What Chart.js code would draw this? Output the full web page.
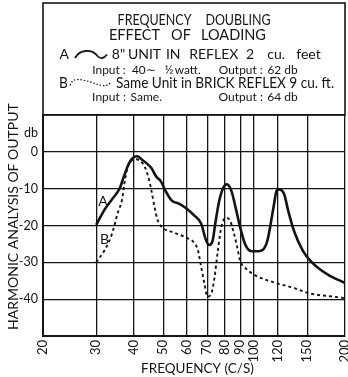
<!DOCTYPE html>
<html>
<head>
<meta charset="utf-8">
<script src="https://cdn.jsdelivr.net/npm/chart.js@4/dist/chart.umd.min.js"></script>
<style>
  html, body { margin: 0; padding: 0; background: #fff; }
</style>
</head>
<body>
<canvas id="harmonics" width="348" height="377"></canvas>
<script>
// frequency ticks (c/s) and db ticks; 5 carries the "db" unit label
const freqTicks = [20, 30, 40, 50, 60, 70, 80, 90, 100, 120, 150, 200];
const dbTicks = [-50, -40, -30, -20, -10, 0, 5, 10];

// curve A: 8" unit in reflex 2 cu. feet
const freqA = [30, 32.1, 34.0, 35.9, 37.2, 38.6, 40, 41.0, 42.5, 43.9, 45.7, 47.4, 49.2, 50.4, 53.3, 56.6,
  60, 63.4, 66.9, 69, 70.9, 72.8, 74.6, 76.6, 79.1, 81.3, 84.1, 86.9, 90, 93.5, 98.3, 103.5, 110.5,
  115.9, 118.7, 121, 125.8, 129.8, 135.6, 145.4, 156.3, 176, 200];
const dbA = [-19.8, -15.5, -12.7, -9.9, -6.3, -3.0, -1.4, -1.2, -2.1, -3.0, -4.4, -6.7, -8.1, -9.9, -13.2, -14.1,
  -15.5, -17.3, -19.6, -23.5, -25.3, -24.3, -18.8, -13.4, -9.7, -8.8, -10.6, -15.2, -20.6, -25.2, -27, -27, -24.3,
  -15.2, -10.6, -10.2, -11.5, -16.1, -21.5, -27, -30.2, -33.4, -35.6];

// curve B: same unit in brick reflex 9 cu. ft.
const freqB = [30, 32.1, 33.8, 35.3, 36.6, 37.2, 38.1, 39.1, 40, 42, 43.4, 44.6, 45.7, 46.8, 48, 49.9, 54.1,
  59.6, 63.4, 65.1, 66.9, 68.6, 70, 71.9, 73.9, 75.8, 77.8, 80.6, 83.4, 85.3, 87.6, 90, 93.5, 100.2, 118.2,
  136, 152, 182, 200];
const dbB = [-30, -26.5, -22.4, -16.8, -12.7, -8.6, -4.4, -2.6, -2, -2.5, -4, -6.7, -10.4, -15, -18.7, -20.7, -21.9,
  -23.3, -24.7, -26.6, -31.5, -36.1, -39.3, -38.8, -34.3, -27, -20.6, -17.9, -18.8, -21.5, -25.2, -29.7, -31.5, -33.4, -35.6,
  -37, -38.4, -39.3, -39.7];

const INK = '#141414';
Chart.defaults.font.family = 'Lato';
Chart.defaults.color = INK;

// header lines: font size, baseline, then [text, left, right]
const headerLines = [
  [16, 25, [['FREQUENCY', 117, 192], ['DOUBLING', 206, 270]]],
  [16, 40, [['EFFECT', 112, 157], ['OF', 172, 190], ['LOADING', 197, 270]]],
  [14, 59, [['A', 60, 68.5], ['8"', 111, 126], ['UNIT', 131, 158], ['IN', 166.5, 180], ['REFLEX', 188.5, 239],
    ['2', 246, 254], ['cu.', 266, 286.5], ['feet', 295, 322]]],
  [12, 73.5, [['Input :', 92, 126], ['40\u223C', 129.5, 158], ['\u00BD', 166.5, 171.5], ['watt.', 175, 200.5],
    ['Output :', 220.5, 261], ['62 db', 266.5, 298.5]]],
  [14.5, 88, [['B', 60, 67], ['Same Unit in BRICK REFLEX 9 cu. ft.', 115, 335]]],
  [12, 101, [['Input :', 92, 126], ['Same.', 129.5, 163], ['Output :', 220.5, 261], ['64 db', 266.5, 298.5]]]
];

const header = {
  id: 'header',
  afterDraw(chart) {
    const ctx = chart.ctx;
    const area = chart.chartArea;
    ctx.save();
    ctx.strokeStyle = INK;
    ctx.lineWidth = 1.6;
    ctx.strokeRect(area.left, 3, area.right - area.left, area.top - 3);

    ctx.fillStyle = INK;
    ctx.textAlign = 'center';
    ctx.textBaseline = 'alphabetic';
    // one horizontal scale per line, each piece centred on its slot
    headerLines.forEach(([size, base, words]) => {
      ctx.font = size + 'px Lato';
      let want = 0, have = 0;
      words.forEach(([t, x0, x1]) => { want += x1 - x0; have += ctx.measureText(t).width; });
      const k = want / have;
      words.forEach(([t, x0, x1]) => {
        ctx.save();
        ctx.translate((x0 + x1) / 2, base);
        ctx.scale(k, 1);
        ctx.fillText(t, 0, 0);
        ctx.restore();
      });
    });

    // legend swatches
    ctx.lineWidth = 1.8;
    ctx.beginPath();
    ctx.moveTo(75, 58);
    ctx.bezierCurveTo(80, 49, 92, 49, 97.5, 56);
    ctx.quadraticCurveTo(102, 61, 107, 54.5);
    ctx.stroke();
    ctx.lineWidth = 1.2;
    ctx.setLineDash([1.5, 1.8]);
    ctx.beginPath();
    ctx.moveTo(70, 85.5);
    ctx.quadraticCurveTo(72, 79.5, 77, 79.5);
    ctx.bezierCurveTo(86, 79.5, 95, 84, 100, 85);
    ctx.quadraticCurveTo(107, 87, 110.5, 82.5);
    ctx.stroke();
    ctx.restore();
  },
  afterDatasetsDraw(chart) {
    const ctx = chart.ctx;
    const x = chart.scales.x, y = chart.scales.y;
    ctx.save();
    ctx.fillStyle = INK;
    ctx.font = '14px Lato';
    ctx.textAlign = 'center';
    ctx.textBaseline = 'middle';
    ctx.fillText('A', x.getPixelForValue(31.6), y.getPixelForValue(-13.4));
    ctx.fillText('B', x.getPixelForValue(32), y.getPixelForValue(-23.8));
    ctx.restore();
  }
};

new Chart(document.getElementById('harmonics'), {
  type: 'line',
  data: {
    datasets: [
      {
        label: 'A',
        data: freqA.map((f, i) => ({ x: f, y: dbA[i] })),
        borderColor: INK,
        borderWidth: 2.6,
        pointRadius: 0,
        cubicInterpolationMode: 'monotone',
        fill: false
      },
      {
        label: 'B',
        data: freqB.map((f, i) => ({ x: f, y: dbB[i] })),
        borderColor: INK,
        borderWidth: 1.9,
        borderDash: [3, 3],
        pointRadius: 0,
        cubicInterpolationMode: 'monotone',
        fill: false
      }
    ]
  },
  options: {
    responsive: false,
    animation: false,
    devicePixelRatio: 1,
    layout: { padding: { top: 115, right: 3, left: 0, bottom: 0 } },
    plugins: { legend: { display: false }, tooltip: { enabled: false } },
    scales: {
      x: {
        type: 'logarithmic',
        min: 20,
        max: 200,
        afterBuildTicks: s => { s.ticks = freqTicks.map(v => ({ value: v })); },
        afterFit: s => { s.height = 41; s.paddingLeft = 0; s.paddingRight = 0; },
        ticks: {
          autoSkip: false,
          minRotation: 90,
          maxRotation: 90,
          padding: 4,
          font: { size: 13 },
          callback: v => String(v)
        },
        grid: { color: INK, lineWidth: 1.3, drawTicks: false },
        border: { color: INK, width: 2 },
        title: { display: true, text: '  FREQUENCY (C/S)', font: { size: 13.5 }, padding: 0 }
      },
      y: {
        type: 'linear',
        min: -50,
        max: 10,
        afterBuildTicks: s => { s.ticks = dbTicks.map(v => ({ value: v })); },
        afterFit: s => { s.width = 43; s.paddingTop = 0; s.paddingBottom = 0; },
        ticks: {
          padding: 5,
          font: { size: 12.5 },
          callback: v => v === 5 ? 'db' : (v === 10 || v === -50 ? '' : String(v))
        },
        grid: {
          color: c => (c.tick && c.tick.value === 5) ? 'rgba(0,0,0,0)' : INK,
          lineWidth: 1.3,
          drawTicks: false
        },
        border: { color: INK, width: 2 },
        title: { display: true, text: '     HARMONIC ANALYSIS OF OUTPUT', font: { size: 14 }, padding: { top: 5, bottom: 0 } }
      }
    }
  },
  plugins: [header]
});
</script>
</body>
</html>
